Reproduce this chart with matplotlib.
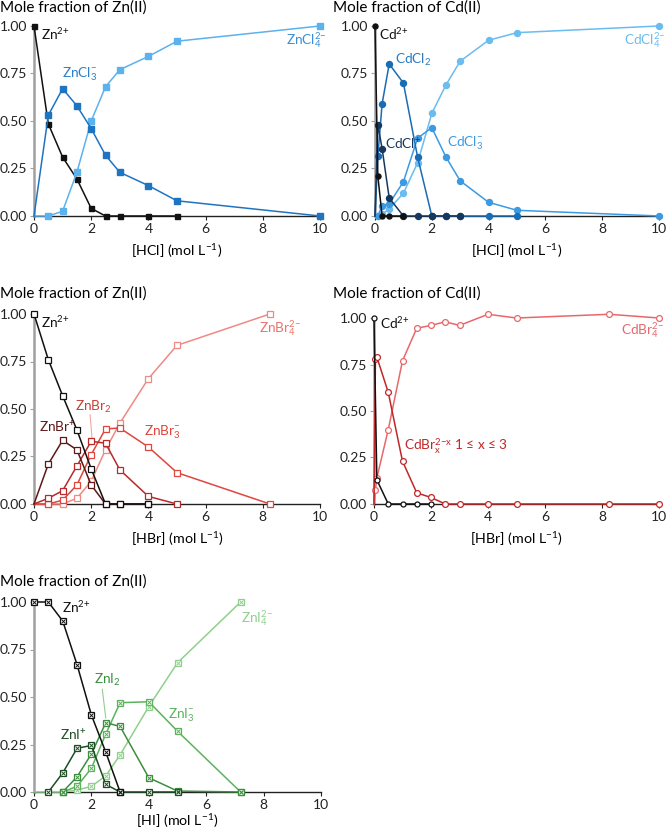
import numpy as np
import matplotlib
matplotlib.use("Agg")
import matplotlib.pyplot as plt

plt.rcParams["font.family"] = ["Lato", "DejaVu Sans"]
plt.rcParams["mathtext.default"] = "regular"

# ---------------- data ----------------
# Zn(II) in HCl
x_zncl = [0, 0.5, 1, 1.5, 2, 2.5, 3, 4, 5, 10]
zn_cl_zn = [1.00, 0.485, 0.31, 0.195, 0.04, 0.0, 0.0, 0.0, 0.0, None]
zn_cl_3 = [0.0, 0.53, 0.67, 0.58, 0.46, 0.32, 0.23, 0.16, 0.08, 0.0]
zn_cl_4 = [0.0, 0.0, 0.025, 0.23, 0.50, 0.68, 0.77, 0.84, 0.92, 1.00]

# Cd(II) in HCl
x_cdcl = [0, 0.1, 0.25, 0.5, 1, 1.5, 2, 2.5, 3, 4, 5, 10]
cd_cl_cd = [1.00, 0.21, 0.0, 0.0, 0.0, None, None, None, None, None, None, None]
cd_cl_1 = [0.0, 0.48, 0.355, 0.095, 0.0, 0.0, 0.0, 0.0, 0.0, None, None, None]
cd_cl_2 = [0.0, 0.315, 0.59, 0.80, 0.70, 0.31, 0.0, 0.0, 0.0, 0.0, 0.0, None]
cd_cl_3 = [0.0, 0.0, 0.055, 0.065, 0.18, 0.41, 0.465, 0.31, 0.185, 0.072, 0.03, 0.0]
cd_cl_4 = [0.0, 0.0, 0.01, 0.037, 0.12, 0.28, 0.54, 0.69, 0.815, 0.925, 0.965, 1.00]

# Zn(II) in HBr
x_znbr = [0, 0.5, 1, 1.5, 2, 2.5, 3, 4, 5, 8.25]
zn_br_zn = [1.00, 0.76, 0.57, 0.39, 0.185, 0.0, 0.0, 0.0, None, None]
zn_br_1 = [0.0, 0.21, 0.335, 0.285, 0.10, 0.0, 0.0, 0.0, None, None]
zn_br_2 = [0.0, 0.03, 0.07, 0.20, 0.33, 0.32, 0.18, 0.04, 0.0, None]
zn_br_3 = [0.0, 0.0, 0.02, 0.10, 0.26, 0.395, 0.40, 0.30, 0.165, 0.0]
zn_br_4 = [0.0, 0.0, 0.0, 0.03, 0.12, 0.285, 0.425, 0.66, 0.835, 1.00]

# Cd(II) in HBr
x_cdbr = [0, 0.05, 0.1, 0.5, 1, 1.5, 2, 2.5, 3, 4, 5, 8.25, 10]
cd_br_cd = [1.00, None, 0.13, 0.0, 0.0, 0.0, 0.0, None, None, None, None, None, None]
cd_br_x = [0.0, 0.78, 0.79, 0.60, 0.23, 0.06, 0.035, 0.0, 0.0, 0.0, 0.0, 0.0, 0.0]
cd_br_4 = [0.0, 0.075, 0.14, 0.40, 0.77, 0.945, 0.96, 0.98, 0.96, 1.02, 1.00, 1.02, 1.00]

# Zn(II) in HI
x_zni = [0, 0.5, 1, 1.5, 2, 2.5, 3, 4, 5, 7.2]
zn_i_zn = [1.00, 1.00, 0.90, 0.67, 0.405, 0.21, 0.0, None, None, None]
zn_i_1 = [None, 0.0, 0.10, 0.23, 0.245, 0.04, 0.0, 0.0, 0.0, None]
zn_i_2 = [None, None, 0.0, 0.08, 0.20, 0.365, 0.345, 0.075, 0.005, 0.0]
zn_i_3 = [None, None, 0.0, 0.03, 0.125, 0.305, 0.47, 0.475, 0.32, 0.0]
zn_i_4 = [0.0, None, 0.0, 0.01, 0.03, 0.085, 0.195, 0.45, 0.68, 1.00]

W, H = 666, 831
fig = plt.figure(figsize=(W / 100, H / 100), dpi=100)


def px(x, y):
    return x / W, 1 - y / H


def make_ax(left, right, top, bottom):
    ax = fig.add_axes([left / W, 1 - bottom / H, (right - left) / W, (bottom - top) / H])
    ax.set_xlim(0, 10)
    ax.set_ylim(0, 1)
    ax.set_xticks([0, 2, 4, 6, 8, 10])
    ax.set_yticks([0, 0.25, 0.5, 0.75, 1.0])
    ax.set_yticklabels(["0.00", "0.25", "0.50", "0.75", "1.00"])
    for s in ["top", "right"]:
        ax.spines[s].set_visible(False)
    ax.spines["left"].set_color("#a0a0a0")
    ax.spines["left"].set_linewidth(1.8)
    ax.spines["bottom"].set_color("#222222")
    ax.spines["bottom"].set_linewidth(1.0)
    ax.tick_params(axis="y", length=3, color="#a0a0a0", labelsize=10, pad=2, labelcolor="#222222")
    ax.tick_params(axis="x", length=3, color="#222222", labelsize=10, pad=2, labelcolor="#222222")
    return ax


def series(ax, x, y, color, marker, open_=False, ms=4, cross=False):
    xs = [a for a, b in zip(x, y) if b is not None]
    ys = [b for b in y if b is not None]
    # no marker for a zero value sitting on the y axis
    idx = [i for i, (a, b) in enumerate(zip(xs, ys)) if not (a == 0 and b == 0)]
    if cross:
        ax.plot(xs, ys, color=color, lw=1.1, marker="s", ms=ms, mfc="white",
                mec=color, mew=0.9, markevery=idx, clip_on=False, zorder=3)
        ax.plot([xs[i] for i in idx], [ys[i] for i in idx], ls="none", marker="x",
                ms=ms * 0.6, mec=color, mew=0.7, clip_on=False, zorder=4)
    elif open_:
        ax.plot(xs, ys, color=color, lw=1.1, marker=marker, ms=ms, mfc="white",
                mec=color, mew=0.9, markevery=idx, clip_on=False, zorder=3)
    else:
        ax.plot(xs, ys, color=color, lw=1.1, marker=marker, ms=ms, mfc=color,
                mec=color, markevery=idx, clip_on=False, zorder=3)


def label(ax, x, y, s, color, ha="left"):
    ax.text(x, y, s, color=color, fontsize=FS, ha=ha, va="center", zorder=6)


BLACK = "#111111"
FS = 9.8
XFS = 10.3

# ---------- panel 1: Zn / HCl ----------
ax1 = make_ax(34, 320, 26, 216)
series(ax1, x_zncl, zn_cl_zn, BLACK, "s", ms=3.6)
series(ax1, x_zncl, zn_cl_4, "#5cb2ec", "s", ms=4)
series(ax1, x_zncl, zn_cl_3, "#1f74c2", "s", ms=4)
label(ax1, 0.25, 0.955, "Zn$^{2{+}}$", BLACK)
label(ax1, 0.97, 0.745, "ZnCl$_3^{-}$", "#2a80cc")
label(ax1, 8.8, 0.925, "ZnCl$_4^{2{-}}$", "#3a8fd6")
ax1.set_xlabel("[HCl] (mol L$^{{-}1}$)", fontsize=XFS, labelpad=5)

# ---------- panel 2: Cd / HCl ----------
ax2 = make_ax(375, 659, 26, 216)
series(ax2, x_cdcl, cd_cl_4, "#6bbcef", "o", ms=4.3)
series(ax2, x_cdcl, cd_cl_3, "#3c9ae2", "o", ms=4.3)
series(ax2, x_cdcl, cd_cl_2, "#1a6cb4", "o", ms=4.3)
series(ax2, x_cdcl, cd_cl_1, "#17385e", "o", ms=4.3)
series(ax2, x_cdcl, cd_cl_cd, BLACK, "o", ms=3.6)
label(ax2, 0.15, 0.955, "Cd$^{2{+}}$", BLACK)
label(ax2, 0.72, 0.82, "CdCl$_2$", "#2a7ac4")
label(ax2, 0.35, 0.375, "CdCl$^{+}$", "#17385e")
label(ax2, 2.52, 0.385, "CdCl$_3^{-}$", "#3c9ae2")
label(ax2, 8.75, 0.925, "CdCl$_4^{2{-}}$", "#6bbcef")
ax2.set_xlabel("[HCl] (mol L$^{{-}1}$)", fontsize=XFS, labelpad=5)

# ---------- panel 3: Zn / HBr ----------
ax3 = make_ax(34, 320, 314, 504)
series(ax3, x_znbr, zn_br_4, "#ee8a85", "s", open_=True, ms=3.8)
series(ax3, x_znbr, zn_br_3, "#e0453e", "s", open_=True, ms=3.8)
series(ax3, x_znbr, zn_br_2, "#b82a2a", "s", open_=True, ms=3.8)
series(ax3, x_znbr, zn_br_1, "#5e1818", "s", open_=True, ms=3.8)
series(ax3, x_znbr, zn_br_zn, BLACK, "s", open_=True, ms=3.8)
ax3.plot([1.96, 2.03], [0.47, 0.345], color="#f0a8a4", lw=0.8, zorder=2)
label(ax3, 0.25, 0.955, "Zn$^{2{+}}$", BLACK)
label(ax3, 0.18, 0.405, "ZnBr$^{+}$", "#5e1818")
label(ax3, 1.42, 0.51, "ZnBr$_2$", "#c8403a")
label(ax3, 3.85, 0.38, "ZnBr$_3^{-}$", "#e0453e")
label(ax3, 7.85, 0.925, "ZnBr$_4^{2{-}}$", "#ec726c")
ax3.set_xlabel("[HBr] (mol L$^{{-}1}$)", fontsize=XFS, labelpad=5)

# ---------- panel 4: Cd / HBr ----------
ax4 = make_ax(374, 659, 318, 504)
series(ax4, x_cdbr, cd_br_4, "#e8686a", "o", open_=True, ms=4.2)
series(ax4, x_cdbr, cd_br_x, "#c02828", "o", open_=True, ms=4.2)
series(ax4, x_cdbr, cd_br_cd, BLACK, "o", open_=True, ms=3.6)
label(ax4, 0.2, 0.975, "Cd$^{2{+}}$", BLACK)
label(ax4, 1.05, 0.308, "CdBr$_x^{2{-}x}$ 1 \u2264 x \u2264 3", "#c02828")
label(ax4, 8.65, 0.935, "CdBr$_4^{2{-}}$", "#e8686a")
ax4.set_xlabel("[HBr] (mol L$^{{-}1}$)", fontsize=XFS, labelpad=5)

# ---------- panel 5: Zn / HI ----------
ax5 = make_ax(34, 321, 602, 792)
series(ax5, x_zni, zn_i_4, "#8fd08c", "s", cross=True, ms=4)
series(ax5, x_zni, zn_i_3, "#5db25c", "s", cross=True, ms=4)
series(ax5, x_zni, zn_i_2, "#3b8f3f", "s", cross=True, ms=4)
series(ax5, x_zni, zn_i_1, "#1d4d24", "s", cross=True, ms=4)
series(ax5, x_zni, zn_i_zn, BLACK, "s", cross=True, ms=4)
ax5.plot([2.38, 2.5], [0.54, 0.39], color="#8fd08c", lw=0.8, zorder=2)
label(ax5, 0.97, 0.975, "Zn$^{2{+}}$", BLACK)
label(ax5, 0.9, 0.30, "ZnI$^{+}$", "#1d4d24")
label(ax5, 2.1, 0.59, "ZnI$_2$", "#3b8f3f")
label(ax5, 4.68, 0.405, "ZnI$_3^{-}$", "#5db25c")
label(ax5, 7.2, 0.915, "ZnI$_4^{2{-}}$", "#8fd08c")
ax5.set_xlabel("[HI] (mol L$^{{-}1}$)", fontsize=XFS, labelpad=1)

# titles
fig.text(*px(0, 8), "Mole fraction of Zn(II)", fontsize=11, va="center", ha="left")
fig.text(*px(333, 8), "Mole fraction of Cd(II)", fontsize=11, va="center", ha="left")
fig.text(*px(0, 294), "Mole fraction of Zn(II)", fontsize=11, va="center", ha="left")
fig.text(*px(333, 294), "Mole fraction of Cd(II)", fontsize=11, va="center", ha="left")
fig.text(*px(0, 582), "Mole fraction of Zn(II)", fontsize=11, va="center", ha="left")

fig.savefig("out.png", dpi=100)
